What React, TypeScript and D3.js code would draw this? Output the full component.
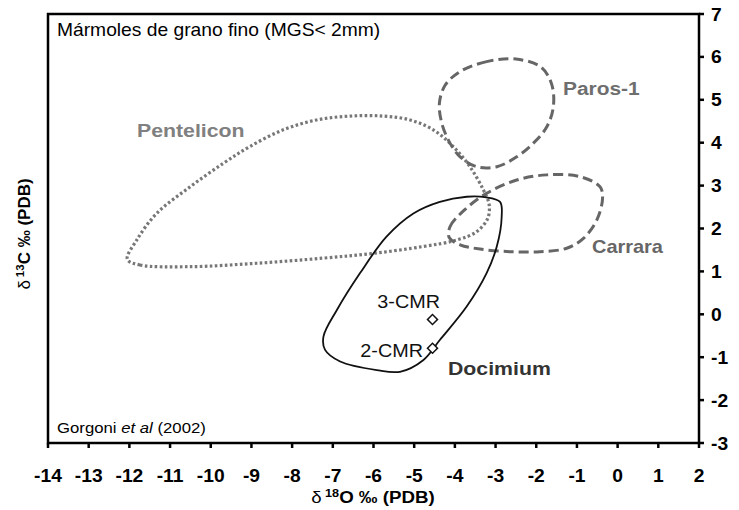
import React from 'react';
import * as d3 from 'd3';

const xTicks: number[] = [-14, -13, -12, -11, -10, -9, -8, -7, -6, -5, -4, -3, -2, -1, 0, 1, 2];
const yTicks: number[] = [-3, -2, -1, 0, 1, 2, 3, 4, 5, 6, 7];

const docimium: [number, number][] = [
  [-3.26, 2.73], [-2.89, 2.62], [-2.85, 2.27], [-2.97, 1.58], [-3.22, 0.96], [-3.71, 0.18],
  [-4.37, -0.6], [-4.78, -1.07], [-5.35, -1.34], [-5.92, -1.30], [-6.82, -1.10], [-7.19, -0.83],
  [-7.23, -0.52], [-6.9, 0.10], [-6.33, 0.96], [-5.68, 1.81], [-5.02, 2.35], [-4.37, 2.62], [-3.71, 2.74],
];

const pentelicon: [number, number][] = [
  [-12.05, 1.28], [-11.74, 1.15], [-10.51, 1.11], [-8.87, 1.19], [-7.23, 1.31], [-6.01, 1.42],
  [-4.78, 1.58], [-3.96, 1.73], [-3.46, 1.93], [-3.19, 2.24], [-3.16, 2.57], [-3.30, 2.90],
  [-3.63, 3.44], [-4.04, 3.91], [-4.53, 4.30], [-5.10, 4.53], [-5.76, 4.62], [-6.58, 4.62],
  [-7.40, 4.53], [-8.22, 4.30], [-9.04, 3.91], [-9.69, 3.52], [-10.51, 2.97], [-11.33, 2.35], [-11.82, 1.73],
];

const paros: [number, number][] = [
  [-2.5, 5.95], [-3.22, 5.89], [-3.87, 5.66], [-4.24, 5.34], [-4.38, 4.92], [-4.32, 4.45],
  [-4.12, 3.99], [-3.87, 3.67], [-3.46, 3.44], [-2.97, 3.44], [-2.48, 3.67], [-2.07, 3.99],
  [-1.74, 4.37], [-1.58, 4.84], [-1.62, 5.36], [-1.88, 5.76],
];

const carrara: [number, number][] = [
  [-4.14, 1.79], [-4.12, 2.04], [-3.79, 2.41], [-3.22, 2.82], [-2.48, 3.13], [-1.74, 3.25],
  [-0.93, 3.21], [-0.43, 2.97], [-0.37, 2.71], [-0.51, 2.20], [-0.84, 1.77], [-1.25, 1.54],
  [-1.91, 1.46], [-2.65, 1.46], [-3.38, 1.52], [-3.87, 1.62],
];

const samples: { name: string; x: number; y: number }[] = [
  { name: '3-CMR', x: -4.55, y: -0.12 },
  { name: '2-CMR', x: -4.55, y: -0.79 },
];

const W = 739;
const H = 510;
const FONT = '"Liberation Sans", Arial, sans-serif';
const SX = 1.1;

function SText(props: {
  x: number;
  y: number;
  size: number;
  sx?: number;
  anchor?: string;
  weight?: string;
  fill?: string;
  children: React.ReactNode;
}) {
  const { x, y, size, sx = SX, anchor = 'start', weight = 'normal', fill = '#000', children } = props;
  return (
    <text
      transform={`translate(${x},${y}) scale(${sx},1)`}
      textAnchor={anchor}
      fontSize={size}
      fontWeight={weight}
      fill={fill}
    >
      {children}
    </text>
  );
}

export default function App() {
  const x = d3.scaleLinear().domain([-14, 2]).range([48, 699]);
  const y = d3.scaleLinear().domain([-3, 7]).range([443, 14]);
  const line = d3
    .line<[number, number]>()
    .x((d) => x(d[0]))
    .y((d) => y(d[1]))
    .curve(d3.curveCatmullRomClosed.alpha(0.5));
  const diamond = d3.symbol().type(d3.symbolSquare).size(50)();

  return (
    <svg
      width={W}
      height={H}
      style={{ position: 'fixed', left: 0, top: 0, background: '#fff' }}
      fontFamily={FONT}
    >
      <rect x={0} y={0} width={W} height={H} fill="#fff" />
      {/* shapes */}
      <path d={line(pentelicon) || ''} fill="none" stroke="#777" strokeWidth={3.2} strokeDasharray="2.6 2.4" />
      <path d={line(paros) || ''} fill="none" stroke="#666" strokeWidth={3} strokeDasharray="10 5" />
      <path d={line(carrara) || ''} fill="none" stroke="#666" strokeWidth={3} strokeDasharray="10 5" />
      <path d={line(docimium) || ''} fill="none" stroke="#111" strokeWidth={1.8} />

      {/* samples */}
      {samples.map((s) => (
        <path
          key={s.name}
          d={diamond || ''}
          transform={`translate(${x(s.x)},${y(s.y)}) rotate(45)`}
          fill="#fff"
          stroke="#111"
          strokeWidth={1.5}
        />
      ))}
      <SText x={440} y={308} size={18} anchor="end" fill="#111">3-CMR</SText>
      <SText x={423} y={357} size={18} anchor="end" fill="#111">2-CMR</SText>

      {/* region labels */}
      <SText x={137} y={137} size={19} sx={1.12} weight="bold" fill="#808080">Pentelicon</SText>
      <SText x={563} y={95} size={19} sx={1.1} weight="bold" fill="#6e6e6e">Paros-1</SText>
      <SText x={592} y={253} size={19} sx={1.05} weight="bold" fill="#666">Carrara</SText>
      <SText x={448} y={375} size={19} sx={1.12} weight="bold" fill="#333">Docimium</SText>

      {/* frame */}
      <rect x={48} y={14} width={699 - 48} height={443 - 14} fill="none" stroke="#000" strokeWidth={2.5} />

      {/* x ticks */}
      {xTicks.map((t) => (
        <g key={'x' + t}>
          <line x1={x(t)} x2={x(t)} y1={443} y2={448} stroke="#000" strokeWidth={2.5} />
          <SText x={x(t)} y={482} size={17.5} anchor="middle" weight="bold">
            {String(t)}
          </SText>
        </g>
      ))}
      {/* y ticks on right */}
      {yTicks.map((t) => (
        <g key={'y' + t}>
          <line x1={699} x2={704} y1={y(t)} y2={y(t)} stroke="#000" strokeWidth={2.5} />
          <SText x={711} y={y(t) + 6.5} size={17.5} weight="bold">
            {String(t)}
          </SText>
        </g>
      ))}

      {/* titles */}
      <SText x={57} y={36} size={17.5}>Mármoles de grano fino (MGS&lt; 2mm)</SText>
      <SText x={57} y={433} size={15.5} sx={1.08}>
        Gorgoni <tspan fontStyle="italic">et al</tspan> (2002)
      </SText>

      <SText x={373} y={503} size={17} anchor="middle" weight="bold">
        <tspan fontWeight="normal">δ</tspan>
        <tspan dx={3} dy={-6} fontSize={11.5}>18</tspan>
        <tspan dy={6}>O ‰ (PDB)</tspan>
      </SText>

      <text
        transform="translate(30,234) rotate(-90)"
        textAnchor="middle"
        fontSize={17}
        fontWeight="bold"
        fill="#000"
      >
        <tspan fontWeight="normal">δ</tspan>
        <tspan dx={3} dy={-6} fontSize={11.5}>13</tspan>
        <tspan dy={6}>C ‰ (PDB)</tspan>
      </text>
    </svg>
  );
}
